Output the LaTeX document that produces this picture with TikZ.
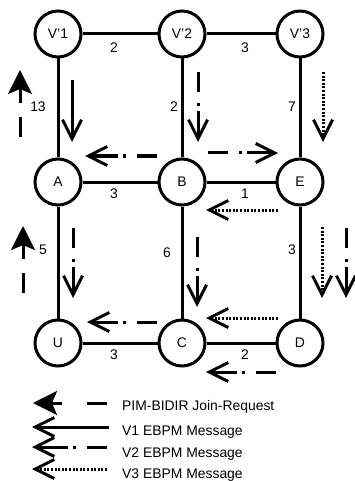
\documentclass[tikz,border=0pt]{standalone}
\usepackage{fontspec}
\setmainfont{Liberation Sans}
\usetikzlibrary{arrows.meta}
\begin{document}
\begin{tikzpicture}[x=1pt,y=-1pt,
  every node/.style={font=\fontsize{13.9}{16}\selectfont},
  vtx/.style={circle,draw,line width=3pt,minimum size=46pt,inner sep=0pt},
  edge/.style={line width=3pt},
  lbl/.style={inner sep=0pt},
  leg/.style={inner sep=0pt,anchor=base west},
  joinarr/.style={line width=3pt,dash pattern=on 20pt off 14pt on 300pt,-{Stealth[length=24pt,width=24pt,inset=5pt]}},
  v1arr/.style={line width=3pt,-{Straight Barb[length=19pt,width=19pt]}},
  v2arr/.style={line width=3pt,dash pattern=on 20pt off 11pt on 3pt off 5pt on 300pt,-{Straight Barb[length=19pt,width=19pt]}},
  v3arr/.style={line width=3pt,dash pattern=on 2pt off 1.6pt,-{Straight Barb[length=19pt,width=19pt]}}
]
\useasboundingbox (0,0) rectangle (355,481);
% vertices
\node[vtx] (v1) at (58,34) {V\char39 1};
\node[vtx] (v2) at (182,34) {V\char39 2};
\node[vtx] (v3) at (300,34) {V\char39 3};
\node[vtx] (A) at (58,182) {A};
\node[vtx] (B) at (182,182) {B};
\node[vtx] (E) at (300,182) {E};
\node[vtx] (U) at (58,343) {U};
\node[vtx] (C) at (182,343) {C};
\node[vtx] (D) at (300,343) {D};
% edges
\draw[edge] (v1) -- (v2);
\draw[edge] (v2) -- (v3);
\draw[edge] (v1) -- (A);
\draw[edge] (v2) -- (B);
\draw[edge] (v3) -- (E);
\draw[edge] (A) -- (B);
\draw[edge] (B) -- (E);
\draw[edge] (A) -- (U);
\draw[edge] (B) -- (C);
\draw[edge] (E) -- (D);
\draw[edge] (U) -- (C);
\draw[edge] (C) -- (D);
% edge labels
\node[lbl] (l1) at (114,48) {2};
\node[lbl] (l2) at (245,48) {3};
\node[lbl] (l3) at (38,107) {13};
\node[lbl] (l4) at (174,107) {2};
\node[lbl] (l5) at (292,107) {7};
\node[lbl] (l6) at (114,194) {3};
\node[lbl] (l7) at (245,194) {1};
\node[lbl] (l8) at (43,250) {5};
\node[lbl] (l9) at (167,253) {6};
\node[lbl] (l10) at (292,250) {3};
\node[lbl] (l11) at (114,355) {3};
\node[lbl] (l12) at (245,355) {2};
% arrow end points
\coordinate (a1s) at (72,80);   \coordinate (a1e) at (72,142);
\coordinate (a2s) at (20,137);  \coordinate (a2e) at (20,70);
\coordinate (a3s) at (198,72);  \coordinate (a3e) at (198,142);
\coordinate (a4s) at (157,156); \coordinate (a4e) at (85,156);
\coordinate (a5s) at (208,153); \coordinate (a5e) at (278,153);
\coordinate (a6s) at (323,72);  \coordinate (a6e) at (323,142);
\coordinate (a7s) at (278,210); \coordinate (a7e) at (206,210);
\coordinate (a8s) at (73,228);  \coordinate (a8e) at (73,298);
\coordinate (a9s) at (23,293);  \coordinate (a9e) at (23,226);
\coordinate (a10s) at (197,237); \coordinate (a10e) at (197,307);
\coordinate (a11s) at (322,227); \coordinate (a11e) at (322,298);
\coordinate (a12s) at (346,228); \coordinate (a12e) at (346,298);
\coordinate (a13s) at (157,322); \coordinate (a13e) at (87,322);
\coordinate (a14s) at (278,318); \coordinate (a14e) at (206,318);
\coordinate (a15s) at (276,372); \coordinate (a15e) at (206,372);
% arrows
\draw[v1arr] (a1s) -- (a1e);
\draw[joinarr] (a2s) -- (a2e);
\draw[v2arr] (a3s) -- (a3e);
\draw[v2arr] (a4s) -- (a4e);
\draw[v2arr] (a5s) -- (a5e);
\draw[v3arr] (a6s) -- (a6e);
\draw[v3arr] (a7s) -- (a7e);
\draw[v2arr] (a8s) -- (a8e);
\draw[joinarr] (a9s) -- (a9e);
\draw[v2arr] (a10s) -- (a10e);
\draw[v3arr] (a11s) -- (a11e);
\draw[v2arr] (a12s) -- (a12e);
\draw[v2arr] (a13s) -- (a13e);
\draw[v3arr] (a14s) -- (a14e);
\draw[v2arr] (a15s) -- (a15e);
% legend
\coordinate (k1s) at (107,403); \coordinate (k1e) at (33,403);
\coordinate (k2s) at (109,427); \coordinate (k2e) at (32,427);
\coordinate (k3s) at (107,447); \coordinate (k3e) at (32,447);
\coordinate (k4s) at (107,469); \coordinate (k4e) at (32,469);
\draw[joinarr,dash pattern=on 20pt off 25pt on 300pt] (k1s) -- (k1e);
\draw[v1arr] (k2s) -- (k2e);
\draw[v2arr] (k3s) -- (k3e);
\draw[v3arr] (k4s) -- (k4e);
\node[leg] (t1) at (122,410.5) {PIM-BIDIR Join-Request};
\node[leg] (t2) at (122,435) {V1 EBPM Message};
\node[leg] (t3) at (122,457.5) {V2 EBPM Message};
\node[leg] (t4) at (122,478.5) {V3 EBPM Message};
\end{tikzpicture}
\end{document}
